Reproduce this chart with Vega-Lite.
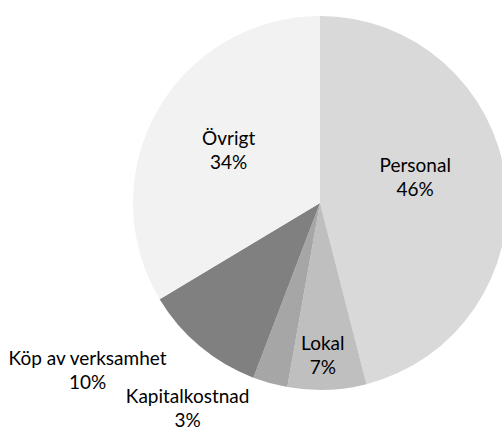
{
  "$schema": "https://vega.github.io/schema/vega-lite/v6.json",
  "width": 364,
  "height": 374,
  "padding": {"left": 138, "top": 16, "right": 0, "bottom": 38},
  "autosize": {"type": "none"},
  "background": "white",
  "view": {"stroke": null},
  "data": {
    "values": [
      {"cat": "Personal", "value": 46.0, "ord": 1, "label": "Personal\n46%"},
      {"cat": "Lokal", "value": 6.8, "ord": 2, "label": "Lokal\n7%"},
      {"cat": "Kapitalkostnad", "value": 3.0, "ord": 3, "label": "Kapitalkostnad\n3%"},
      {"cat": "Köp av verksamhet", "value": 10.6, "ord": 4, "label": "Köp av verksamhet\n10%"},
      {"cat": "Övrigt", "value": 33.6, "ord": 5, "label": "Övrigt\n34%"}
    ]
  },
  "encoding": {
    "theta": {"field": "value", "type": "quantitative", "stack": true},
    "order": {"field": "ord", "type": "quantitative"}
  },
  "layer": [
    {
      "mark": {"type": "arc", "radius": 187, "stroke": null},
      "encoding": {
        "color": {
          "field": "cat",
          "type": "nominal",
          "scale": {
            "domain": ["Personal", "Lokal", "Kapitalkostnad", "Köp av verksamhet", "Övrigt"],
            "range": ["#d9d9d9", "#bfbfbf", "#a6a6a6", "#808080", "#f2f2f2"]
          },
          "legend": null
        }
      }
    },
    {
      "mark": {"type": "text", "radius": 100, "dx": -4, "dy": -24, "font": "Lato", "fontSize": 19, "lineBreak": "\n", "lineHeight": 24, "baseline": "middle", "align": "center", "color": "#000000"},
      "encoding": {"text": {"condition": {"test": "datum.cat === 'Personal'", "field": "label"}, "value": ""}}
    },
    {
      "mark": {"type": "text", "radius": 153, "dx": -3, "dy": -12, "font": "Lato", "fontSize": 19, "lineBreak": "\n", "lineHeight": 24, "baseline": "middle", "align": "center", "color": "#000000"},
      "encoding": {"text": {"condition": {"test": "datum.cat === 'Lokal'", "field": "label"}, "value": ""}}
    },
    {
      "mark": {"type": "text", "radius": 200, "dx": -79, "dy": 1, "font": "Lato", "fontSize": 19, "lineBreak": "\n", "lineHeight": 24, "baseline": "middle", "align": "center", "color": "#000000"},
      "encoding": {"text": {"condition": {"test": "datum.cat === 'Kapitalkostnad'", "field": "label"}, "value": ""}}
    },
    {
      "mark": {"type": "text", "radius": 200, "dx": -104, "dy": 3, "font": "Lato", "fontSize": 19, "lineBreak": "\n", "lineHeight": 24, "baseline": "middle", "align": "center", "color": "#000000"},
      "encoding": {"text": {"condition": {"test": "datum.cat === 'Köp av verksamhet'", "field": "label"}, "value": ""}}
    },
    {
      "mark": {"type": "text", "radius": 105, "dx": 0, "dy": -12, "font": "Lato", "fontSize": 19, "lineBreak": "\n", "lineHeight": 24, "baseline": "middle", "align": "center", "color": "#000000"},
      "encoding": {"text": {"condition": {"test": "datum.cat === 'Övrigt'", "field": "label"}, "value": ""}}
    }
  ]
}
